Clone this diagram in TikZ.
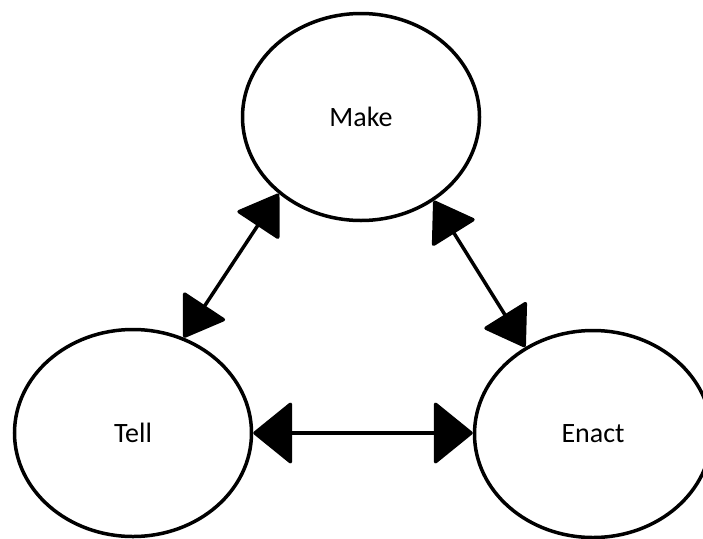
\documentclass[tikz,border=0pt]{standalone}
\usepackage{fontspec}
\setmainfont{Carlito}
\usetikzlibrary{arrows.meta,shapes.geometric}
\begin{document}
\begin{tikzpicture}[x=1pt,y=-1pt,
  circ/.style={ellipse,draw=black,fill=white,line width=3.5pt,minimum width=237pt,minimum height=207pt,inner sep=0pt,font=\fontsize{28}{30}\selectfont},
  linkh/.style={line width=3.5pt,{Triangle[length=40pt,width=64pt,round]}-{Triangle[length=40pt,width=64pt,round]}},
  linkd/.style={line width=3.5pt,{Triangle[length=40pt,width=52pt,round]}-{Triangle[length=40pt,width=52pt,round]}}]
\useasboundingbox[fill=white] (0,0) rectangle (703,538);
\node[circ] (make) at (361,117) {Make};
\node[circ] (tell) at (133,433) {Tell};
\node[circ] (enact) at (593,434) {Enact};
\draw[linkd] (make.223) -- (tell.62);
\draw[linkd] (make.311) -- (enact.128);
\draw[linkh] (tell.east) -- (tell.east -| enact.west);
\end{tikzpicture}
\end{document}
